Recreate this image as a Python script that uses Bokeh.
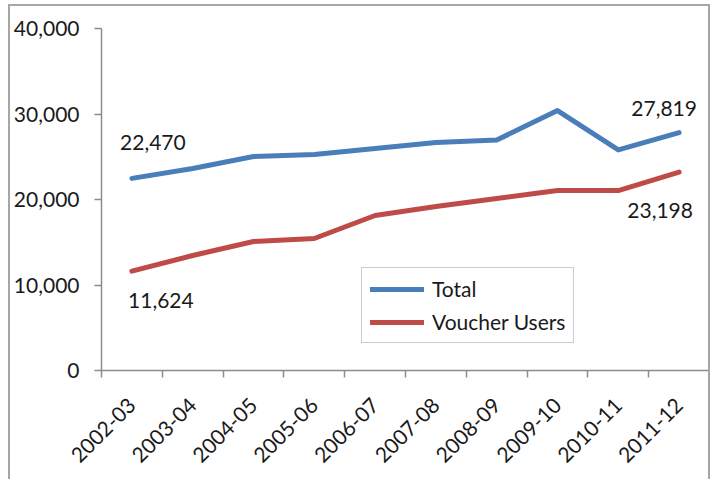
from bokeh.plotting import figure
from bokeh.models import (ColumnDataSource, Range1d, FixedTicker, NumeralTickFormatter,
                          Legend, LegendItem, LabelSet)
from bokeh.core.properties import value
from bokeh.embed import file_html
from bokeh.resources import INLINE
import math

years = ["2002-03", "2003-04", "2004-05", "2005-06", "2006-07",
         "2007-08", "2008-09", "2009-10", "2010-11", "2011-12"]
total = [22470, 23630, 25030, 25260, 25960, 26670, 26950, 30400, 25800, 27819]
voucher = [11624, 13450, 15090, 15440, 18130, 19180, 20120, 21050, 21050, 23198]
y_ticks = [0, 10000, 20000, 30000, 40000]

FONT = "Lato"
FS = "21px"
BLUE = "#4A7EBB"
RED = "#BE4B48"
AXIS = "#8C8C8C"
TXT = "#1a1a1a"

xs = [i + 0.5 for i in range(len(years))]

p = figure(width=702, height=475, output_backend="svg", toolbar_location=None,
           x_range=Range1d(0, len(years)), y_range=Range1d(0, 40000),
           min_border_left=90, min_border_right=3, min_border_top=22, min_border_bottom=111)
p.styles = {"border-left": "2px solid #A6A6A6", "border-top": "2px solid #A6A6A6",
            "border-right": "2px solid #A6A6A6", "margin-top": "4px", "margin-left": "8px"}
p.outline_line_color = None
p.grid.visible = False
p.background_fill_color = "white"
p.border_fill_color = "white"

# x axis
xa = p.xaxis[0]
xa.ticker = FixedTicker(ticks=xs, minor_ticks=list(range(len(years) + 1)))
xa.major_label_overrides = {x: y for x, y in zip(xs, years)}
xa.major_tick_line_color = None
xa.minor_tick_line_color = AXIS
xa.minor_tick_line_width = 1.5
xa.minor_tick_in = 0
xa.minor_tick_out = 7
xa.axis_line_color = AXIS
xa.axis_line_width = 1.5
xa.major_label_orientation = math.pi / 4
xa.major_label_text_font = FONT
xa.major_label_text_font_size = FS
xa.major_label_text_color = TXT
xa.major_label_standoff = 24

# y axis
ya = p.yaxis[0]
ya.ticker = FixedTicker(ticks=y_ticks, minor_ticks=[])
ya.formatter = NumeralTickFormatter(format="0,0")
ya.major_tick_line_color = AXIS
ya.major_tick_line_width = 1.5
ya.major_tick_in = 0
ya.major_tick_out = 7
ya.axis_line_color = AXIS
ya.axis_line_width = 1.5
ya.major_label_text_font = FONT
ya.major_label_text_font_size = FS
ya.major_label_text_color = TXT
ya.major_label_standoff = 15

src = ColumnDataSource(dict(x=xs, total=total, voucher=voucher))
r1 = p.line("x", "total", source=src, line_color=BLUE, line_width=5,
            line_join="round", line_cap="round")
r2 = p.line("x", "voucher", source=src, line_color=RED, line_width=5,
            line_join="round", line_cap="round")

# end data labels
lab = ColumnDataSource(dict(
    x=[xs[0], xs[-1], xs[0], xs[-1]],
    y=[total[0], total[-1], voucher[0], voucher[-1]],
    text=[f"{v:,}" for v in [total[0], total[-1], voucher[0], voucher[-1]]],
    xo=[21, -15, 29, -19],
    yo=[36, 24, -29, -38],
))
p.add_layout(LabelSet(x="x", y="y", text="text", source=lab, x_offset="xo", y_offset="yo",
                      text_font=value(FONT), text_font_size=FS, text_color=TXT,
                      text_align="center", text_baseline="middle"))

legend = Legend(items=[LegendItem(label="Total", renderers=[r1]),
                       LegendItem(label="Voucher Users", renderers=[r2])],
                location=(260, 27))
legend.label_text_font = FONT
legend.label_text_font_size = FS
legend.label_text_color = TXT
legend.glyph_width = 54
legend.glyph_height = 20
legend.label_height = 20
legend.label_standoff = 8
legend.spacing = 8
legend.padding = 8
legend.margin = 0
legend.border_line_color = "#999999"
legend.border_line_width = 1.5
legend.background_fill_alpha = 1
p.add_layout(legend)

open("out.html", "w").write(file_html(p, INLINE))
